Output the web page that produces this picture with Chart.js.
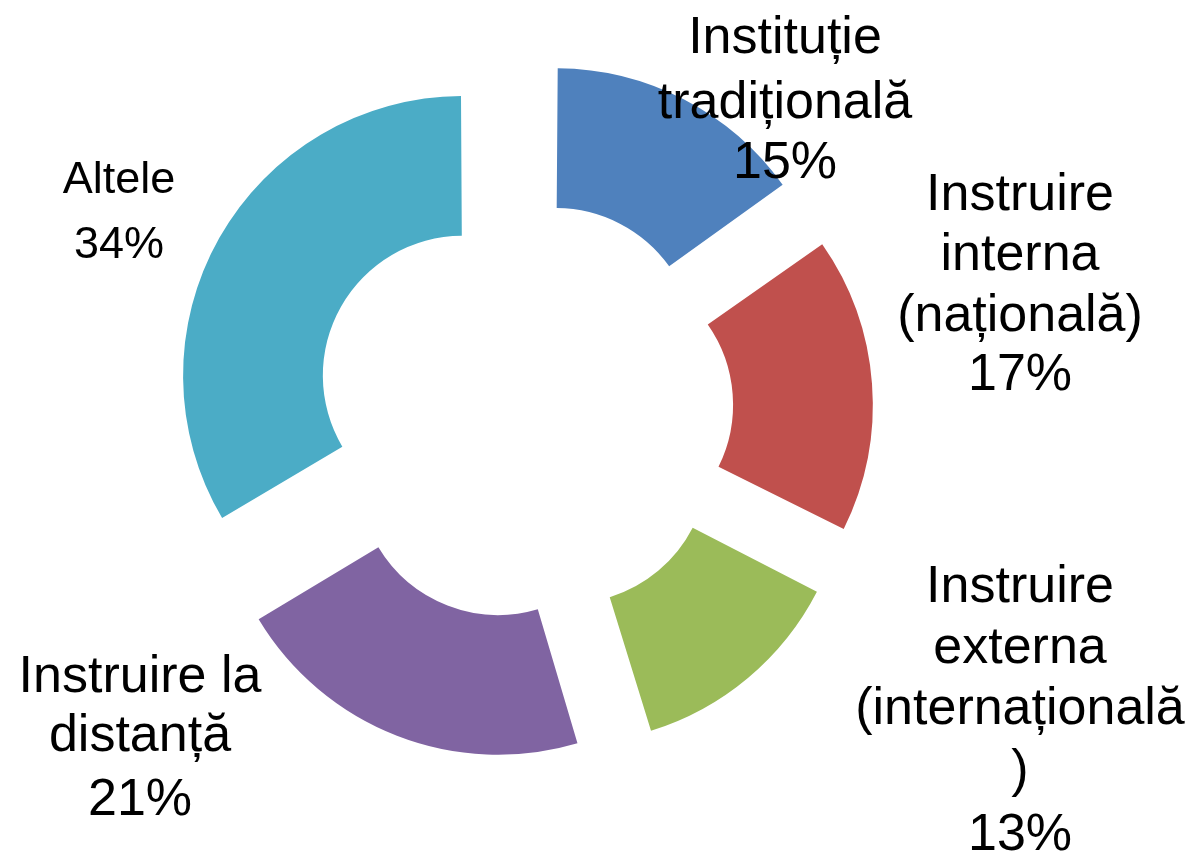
<!DOCTYPE html>
<html>
<head>
<meta charset="utf-8">
<script src="https://cdn.jsdelivr.net/npm/chart.js@4"></script>
<style>
  html, body { margin: 0; padding: 0; background: #fff; }
  #wrap { width: 1193px; height: 855px; position: relative; }
</style>
</head>
<body>
<div id="wrap"><canvas id="chart"></canvas></div>
<script>
// categories (as wrapped in the picture) and values (slice sizes, labels show them rounded)
const categories = [
  ['Instituție', 'tradițională'],
  ['Instruire', 'interna', '(națională)'],
  ['Instruire', 'externa', '(internațională', ')'],
  ['Instruire la', 'distanță'],
  ['Altele']
]
const values = [15.2, 17.2, 13.0, 21.0, 33.6]
const colors = ['#4f81bd', '#c0504d', '#9bbb59', '#8064a2', '#4bacc6']

// where each label block sits: center x, baselines of each line, font size
const labelPos = [
  { x: 785, lines: [53, 118, 178], size: 52 },
  { x: 1020, lines: [210, 270, 331, 390], size: 52 },
  { x: 1020, lines: [602, 663, 724, 786, 850], size: 52 },
  { x: 140, lines: [692, 751, 815], size: 52 },
  { x: 119, lines: [193, 258], size: 45 }
]

// chart.js grows the radius of offset arcs a bit, undo that so all slices share one radius
const fixRadius = {
  id: 'fixRadius',
  afterDatasetsUpdate(chart) {
    chart.getDatasetMeta(0).data.forEach(arc => {
      const t = (arc.options.offset || 0) / 4
      const r = t * (1 - Math.sin(Math.min(Math.PI, arc.circumference)))
      arc.outerRadius -= r
      arc.innerRadius -= r
    })
  }
}

const sliceLabels = {
  id: 'sliceLabels',
  afterDraw(chart) {
    const ctx = chart.ctx
    ctx.save()
    ctx.fillStyle = '#000'
    ctx.textAlign = 'center'
    ctx.textBaseline = 'alphabetic'
    categories.forEach((lines, i) => {
      const p = labelPos[i]
      const txt = [...lines, Math.round(values[i]) + '%']
      ctx.font = `${p.size}px "Liberation Sans", Arial, sans-serif`
      txt.forEach((t, j) => ctx.fillText(t, p.x, p.lines[j]))
    })
    ctx.restore()
  }
}

new Chart(document.getElementById('chart'), {
  type: 'doughnut',
  data: {
    labels: categories.map(c => c.join(' ')),
    datasets: [{
      data: values,
      backgroundColor: colors,
      borderWidth: 0,
      offset: 280
    }]
  },
  options: {
    responsive: true,
    maintainAspectRatio: false,
    animation: false,
    radius: 279.5,
    cutout: '50%',
    layout: { padding: { left: 0, top: 0, right: 146, bottom: 35 } },
    plugins: {
      legend: { display: false },
      tooltip: { enabled: false }
    }
  },
  plugins: [fixRadius, sliceLabels]
})
</script>
</body>
</html>
